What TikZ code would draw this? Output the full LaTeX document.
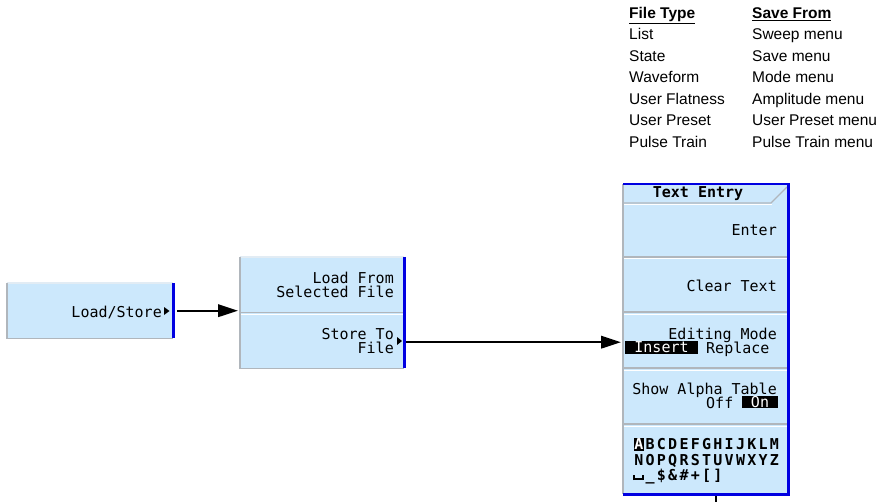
\documentclass[tikz,border=0pt]{standalone}
\usepackage{fontspec}
\setmainfont{Liberation Sans}
\setmonofont{DejaVu Sans Mono}
\usetikzlibrary{arrows.meta}
\definecolor{keyfill}{RGB}{204,232,252}
\definecolor{keyblue}{RGB}{0,0,225}
\definecolor{keygray}{RGB}{176,182,188}
\definecolor{keylite}{RGB}{226,236,244}
\newcommand\alphach[1]{\makebox[11.3pt]{#1}}
\newcommand\invch[1]{{\setlength\fboxsep{0pt}\colorbox{black}{\makebox[10pt]{\rule[-1.5pt]{0pt}{13pt}\textcolor{white}{#1}}}}}
\newcommand\openboxch{\rule{2pt}{5pt}\rule{7pt}{2pt}\rule{2pt}{5pt}}
\def\spreadch#1{\ifx#1\relax\else\alphach{#1}\expandafter\spreadch\fi}
\begin{document}
\begin{tikzpicture}[x=1pt,y=-1pt,
  keybox/.style={fill=keyfill, draw=none, inner sep=0pt, anchor=north west},
  keyedge/.style={draw=keygray, line width=1.2pt},
  keyhi/.style={draw=white, line width=1pt},
  keytop/.style={draw=keylite, line width=1.2pt},
  blueedge/.style={draw=keyblue, line width=2.5pt, line join=miter},
  keytext/.style={font=\fontsize{15}{14}\selectfont\ttfamily, inner sep=0pt, text=black},
  boldtext/.style={font=\fontsize{15}{14}\selectfont\ttfamily\bfseries, inner sep=0pt, text=black},
  invtext/.style={keytext, fill=black, text=white},
  conn/.style={draw=black, line width=2pt, -{Triangle[length=20pt,width=12.5pt]}, shorten >=2pt},
  tabletext/.style={font=\fontsize{15.5}{16}\selectfont, inner sep=0pt, anchor=base west},
  tablehead/.style={tabletext, font=\fontsize{15.5}{16}\selectfont\bfseries},
]
\useasboundingbox (0,0) rectangle (890,502);

% table at top right
\node[tablehead] (h1) at (629,19) {\underline{File Type}};
\node[tablehead] (h2) at (752,19) {\underline{Save From}};
\node[tabletext] (f1) at (629,40) {List};
\node[tabletext] (f2) at (629,62) {State};
\node[tabletext] (f3) at (629,83) {Waveform};
\node[tabletext] (f4) at (629,104.5) {User Flatness};
\node[tabletext] (f5) at (629,126) {User Preset};
\node[tabletext] (f6) at (629,147.5) {Pulse Train};
\node[tabletext] (s1) at (752,40) {Sweep menu};
\node[tabletext] (s2) at (752,62) {Save menu};
\node[tabletext] (s3) at (752,83) {Mode menu};
\node[tabletext] (s4) at (752,104.5) {Amplitude menu};
\node[tabletext] (s5) at (752,126) {User Preset menu};
\node[tabletext] (s6) at (752,147.5) {Pulse Train menu};

% Load/Store key
\node[keybox, minimum width=166pt, minimum height=55pt] (ls) at (7,283) {};
\draw[keytop] (ls.north west) -- (ls.north east);
\draw[keyedge] (ls.north west) -- (ls.south west) -- (ls.south east);
\draw[blueedge] (ls.north east) -- (ls.south east);
\node[keytext, anchor=base east] (lst) at (162,317) {Load/Store};
\fill[black] (164,307) -- (169.5,311) -- (164,315) -- cycle;

% Load From / Store To keys
\node[keybox, minimum width=164pt, minimum height=55pt] (lf) at (240,257) {};
\node[keybox, minimum width=164pt, minimum height=56pt] (st) at (240,312) {};
\draw[keytop] (lf.north west) -- (lf.north east);
\draw[keyedge] (lf.south west) -- (lf.south east);
\draw[keyhi] ([yshift=-2pt]lf.south west) -- ([yshift=-2pt]lf.south east);
\draw[keyedge] (lf.north west) -- (st.south west) -- (st.south east);
\draw[blueedge] (lf.north east) -- (st.south east);
\node[keytext, anchor=base east, align=right] (lft) at (394,298) {Load From\\Selected File};
\node[keytext, anchor=base east, align=right] (stt) at (394,353) {Store To\\File};
\fill[black] (397,337) -- (402,341) -- (397,345) -- cycle;

% Text Entry panel
\node[keybox, minimum width=165pt, minimum height=310pt] (te) at (623,184) {};
\foreach \yy in {257,312,368,424} {
  \draw[keyedge] (623,\yy) -- (787,\yy);
  \draw[keyhi] (624,\yy+2) -- (787,\yy+2);
}
\draw[keyedge] (623,203) -- (771,203) -- (787,187);
\draw[keyhi] (624,205) -- (772,205);
\draw[keyedge] (te.north west) -- (te.south west);
\draw[blueedge] (te.north west) -- (te.north east) -- (te.south east) -- (te.south west);

\node[boldtext, anchor=base] (tt) at (698,197.5) {Text Entry};
\node[keytext, anchor=base east] (en) at (777,236) {Enter};
\node[keytext, anchor=base east] (ct) at (777,291) {Clear Text};
\node[keytext, anchor=base east] (em) at (777,339) {Editing Mode};
\node[invtext, minimum width=73pt, minimum height=13pt] (ins) at (661.5,347.5) {Insert};
\node[keytext, anchor=base west] (rep) at (706,353) {Replace};
\node[keytext, anchor=base east] (sa) at (777,394) {Show Alpha Table};
\node[keytext, anchor=base west] (off) at (706,408) {Off};
\node[invtext, minimum width=36pt, minimum height=12pt] (on) at (760,402) {On};
\node[boldtext, anchor=base west] (r1) at (633,449) {\alphach{\invch{A}}\spreadch BCDEFGHIJKLM\relax};
\node[boldtext, anchor=base west] (r2) at (633,465) {\spreadch NOPQRSTUVWXYZ\relax};
\node[boldtext, anchor=base west] (r3) at (633,480) {\spreadch\openboxch\_\$\&\#+[]\relax};

% connectors
\draw[conn] ([xshift=4pt]ls.east) -- (ls.east -| lf.west);
\coordinate (a2) at ([xshift=2pt,yshift=-2pt]st.east);
\draw[conn] (a2) -- (a2 -| te.west);
\coordinate (stub) at ([xshift=10.5pt]te.south);
\draw[line width=1.5pt] ([yshift=-1.5pt]stub) -- ++(0,8);
\end{tikzpicture}
\end{document}
